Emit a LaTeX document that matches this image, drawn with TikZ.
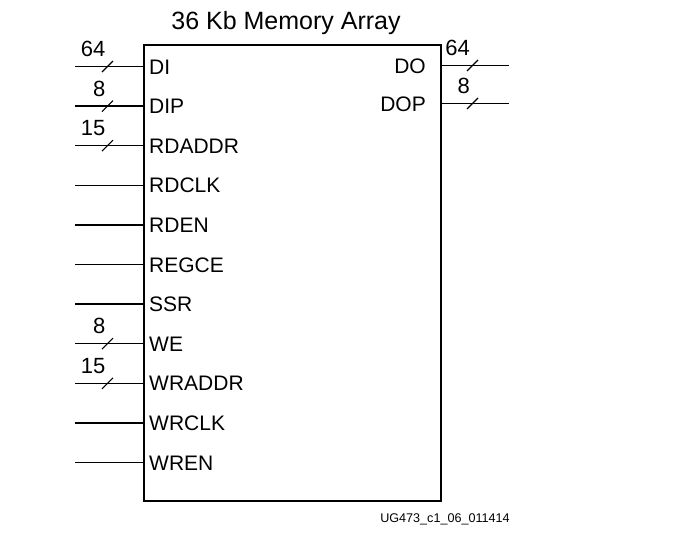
\documentclass[tikz,border=0pt]{standalone}
\usepackage{fontspec}
\setmainfont{Liberation Sans}
\usetikzlibrary{calc}
\begin{document}
\begin{tikzpicture}[x=1pt,y=-1pt,
  pin/.style={line width=1.3pt},
  busmark/.style={line width=1.1pt},
  pinlbl/.style={font=\fontsize{21}{23}\selectfont},
  buslbl/.style={font=\fontsize{22}{24}\selectfont},
]
\useasboundingbox (0,0) rectangle (700,536);
% main box
\node[draw, line width=2pt, minimum width=297pt, minimum height=456pt, inner sep=0pt, anchor=north west] (mem) at (142.5,43.5) {};
\node[font=\fontsize{25}{27}\selectfont, anchor=base] (title) at (286,29) {36 Kb Memory Array};
\node[font=\fontsize{12.6}{14}\selectfont, anchor=base] (foot) at (445,522) {UG473\_c1\_06\_011414};

% inputs
\foreach \name/\lab/\k in {di/DI/0, dip/DIP/1, rdaddr/RDADDR/2, rdclk/RDCLK/3, rden/RDEN/4, regce/REGCE/5, ssr/SSR/6, we/WE/7, wraddr/WRADDR/8, wrclk/WRCLK/9, wren/WREN/10}{
  \pgfmathsetmacro{\yy}{66.5+39.6*\k}
  \coordinate (\name-in) at (75,\yy);
  \coordinate (\name-pin) at (142.5,\yy);
  \draw[pin] (\name-in) -- (\name-pin);
  \node[pinlbl, anchor=base west, inner sep=0pt] (\name-lbl) at (149,\yy+7.5) {\lab};
}
% bus marks and widths on inputs
\foreach \name/\w in {di/64, dip/8, rdaddr/15, we/8, wraddr/15}{
  \draw[busmark] ($(\name-in)+(27,5.5)$) -- ($(\name-in)+(38,-5.5)$);
  \node[buslbl, anchor=base east, inner sep=0pt] (\name-w) at ($(\name-in)+(30.5,-10)$) {\w};
}
% outputs
\foreach \name/\lab/\yy/\w in {do/DO/65.5/64, dop/DOP/103.5/8}{
  \coordinate (\name-pin) at (440,\yy);
  \coordinate (\name-out) at (509,\yy);
  \draw[pin] (\name-pin) -- (\name-out);
  \node[pinlbl, anchor=base east, inner sep=0pt] (\name-lbl) at (426,\yy+7.5) {\lab};
  \draw[busmark] ($(\name-pin)+(27,5.5)$) -- ($(\name-pin)+(38,-5.5)$);
  \node[buslbl, anchor=base east, inner sep=0pt] (\name-w) at ($(\name-pin)+(30,-10)$) {\w};
}
\end{tikzpicture}
\end{document}
